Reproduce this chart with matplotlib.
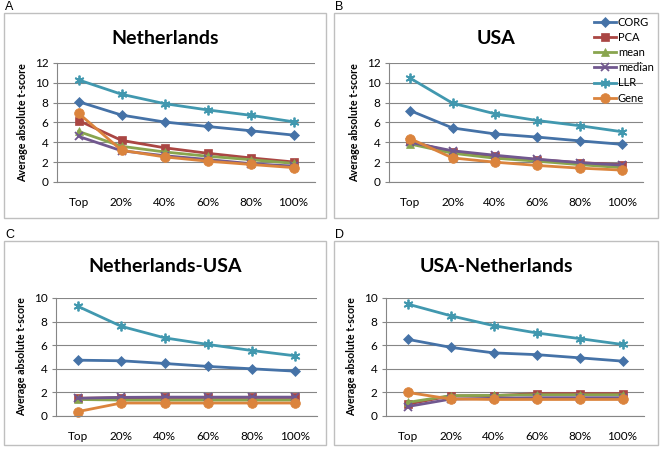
import matplotlib
matplotlib.use("Agg")
import matplotlib.pyplot as plt
from matplotlib.patches import Rectangle

plt.rcParams["font.family"] = ["Lato", "DejaVu Sans"]

categories = ["Top", "20%", "40%", "60%", "80%", "100%"]
methods = ["CORG", "PCA", "mean", "median", "LLR", "Gene"]

# values read per panel, one list per method
netherlands = {
    "CORG": [8.1, 6.75, 6.05, 5.6, 5.17, 4.73],
    "PCA": [6.2, 4.2, 3.45, 2.9, 2.43, 2.02],
    "mean": [5.1, 3.6, 3.03, 2.6, 2.25, 1.88],
    "median": [4.6, 3.15, 2.65, 2.27, 1.85, 1.6],
    "LLR": [10.3, 8.85, 7.9, 7.27, 6.73, 6.07],
    "Gene": [6.93, 3.2, 2.53, 2.1, 1.77, 1.45],
}
usa = {
    "CORG": [7.2, 5.45, 4.85, 4.53, 4.15, 3.8],
    "PCA": [4.1, 3.0, 2.6, 2.25, 1.95, 1.75],
    "mean": [3.83, 2.9, 2.4, 2.1, 1.75, 1.45],
    "median": [4.0, 3.15, 2.7, 2.3, 1.95, 1.7],
    "LLR": [10.47, 7.95, 6.88, 6.2, 5.68, 5.07],
    "Gene": [4.37, 2.43, 2.0, 1.67, 1.4, 1.2],
}
nl_usa = {
    "CORG": [4.73, 4.68, 4.45, 4.2, 4.0, 3.8],
    "PCA": [1.5, 1.55, 1.57, 1.57, 1.57, 1.57],
    "mean": [1.4, 1.35, 1.35, 1.35, 1.35, 1.35],
    "median": [1.5, 1.58, 1.6, 1.6, 1.6, 1.6],
    "LLR": [9.3, 7.6, 6.62, 6.06, 5.55, 5.1],
    "Gene": [0.37, 1.1, 1.1, 1.1, 1.1, 1.1],
}
usa_nl = {
    "CORG": [6.5, 5.82, 5.35, 5.2, 4.93, 4.65],
    "PCA": [1.0, 1.7, 1.72, 1.9, 1.9, 1.9],
    "mean": [1.15, 1.72, 1.75, 1.8, 1.8, 1.8],
    "median": [0.8, 1.43, 1.5, 1.55, 1.55, 1.55],
    "LLR": [9.49, 8.5, 7.66, 7.04, 6.56, 6.06],
    "Gene": [2.0, 1.44, 1.4, 1.4, 1.4, 1.4],
}

colors = {"CORG": "#4572A7", "PCA": "#AA4643", "mean": "#89A54E",
          "median": "#71588F", "LLR": "#4198AF", "Gene": "#DB843D"}
markers = {"CORG": "D", "PCA": "s", "mean": "^", "median": "x",
           "LLR": (6, 2, 0), "Gene": "o"}
msizes = {"CORG": 5, "PCA": 6, "mean": 6, "median": 6, "LLR": 7, "Gene": 7}

W, H = 662, 457
fig = plt.figure(figsize=(W / 100, H / 100), dpi=100)


def frac(x0, y0, x1, y1):
    return [x0 / W, 1 - y1 / H, (x1 - x0) / W, (y1 - y0) / H]


panels = [
    ("A", "Netherlands", netherlands, 12, (4, 13, 326, 218), (57, 63, 315, 182)),
    ("B", "USA", usa, 12, (334, 13, 658, 218), (389, 63, 643, 182)),
    ("C", "Netherlands-USA", nl_usa, 10, (4, 241, 326, 445), (56, 298, 317, 416)),
    ("D", "USA-Netherlands", usa_nl, 10, (334, 241, 658, 445), (386, 298, 644, 416)),
]

x = list(range(len(categories)))
for letter, title, data, ymax, box, area in panels:
    bx0, by0, bx1, by1 = box
    fig.patches.append(Rectangle((bx0 / W, 1 - by1 / H), (bx1 - bx0) / W, (by1 - by0) / H,
                                 transform=fig.transFigure, fill=False,
                                 edgecolor="#BFBFBF", linewidth=1.0))
    fig.text((bx0 + 1) / W, 1 - (by0 - 6) / H, letter, fontsize=9,
             ha="left", va="center", family=["Liberation Sans"])
    fig.text(((bx0 + bx1) / 2) / W, 1 - (by0 + 25) / H, title,
             fontsize=14, fontweight="bold", ha="center", va="center")

    ax = fig.add_axes(frac(*area))
    for m in methods:
        ax.plot(x, data[m], color=colors[m], marker=markers[m], markersize=msizes[m],
                linewidth=2, markeredgewidth=1.3 if m in ("median", "LLR") else 0.5,
                markeredgecolor=colors[m], label=m, clip_on=False)
    ax.set_xlim(-0.5, len(categories) - 0.5)
    ax.set_ylim(0, ymax)
    ax.set_yticks(range(0, ymax + 1, 2))
    ax.set_xticks(x)
    ax.set_xticklabels(categories)
    ax.tick_params(axis="x", length=0, pad=11, labelsize=8.5)
    ax.tick_params(axis="y", length=3, color="#868686", labelsize=8.5, pad=3)
    ax.grid(axis="y", color="#868686", linewidth=0.8)
    ax.set_axisbelow(True)
    for s in ("top", "right"):
        ax.spines[s].set_visible(False)
    ax.spines["left"].set_color("#868686")
    ax.spines["bottom"].set_color("#868686")
    ax.set_ylabel("Average absolute t-score", fontsize=7.7, fontweight="bold", labelpad=5)

    if letter == "B":
        leg = ax.legend(loc="upper left", bbox_to_anchor=(594 / W, 1 - 17 / H),
                        bbox_transform=fig.transFigure, frameon=False, fontsize=8,
                        handlelength=2.0, handletextpad=0.15, labelspacing=0.37,
                        borderaxespad=0, borderpad=0)

fig.savefig("out.png", dpi=100)
